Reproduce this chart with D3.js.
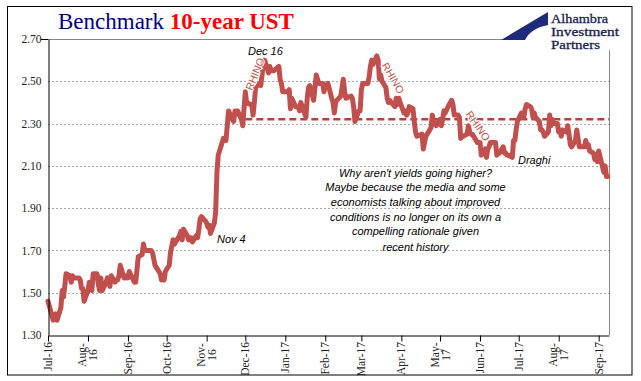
<!DOCTYPE html>
<html><head><meta charset="utf-8">
<script src="https://cdn.jsdelivr.net/npm/d3@7"></script>
<style>body{margin:0;background:#fff}svg{display:block}</style>
</head><body><svg id="c" width="641" height="381"></svg>
<script>
const dates = [
"2016-07-01","2016-07-05","2016-07-06","2016-07-07","2016-07-08","2016-07-11","2016-07-12","2016-07-13","2016-07-14","2016-07-15","2016-07-18","2016-07-19","2016-07-20","2016-07-21","2016-07-22","2016-07-25","2016-07-26","2016-07-27","2016-07-28","2016-07-29",
"2016-08-01","2016-08-02","2016-08-03","2016-08-04","2016-08-05","2016-08-08","2016-08-09","2016-08-10","2016-08-11","2016-08-12","2016-08-15","2016-08-16","2016-08-17","2016-08-18","2016-08-19","2016-08-22","2016-08-23","2016-08-24","2016-08-25","2016-08-26","2016-08-29","2016-08-30","2016-08-31",
"2016-09-01","2016-09-02","2016-09-06","2016-09-07","2016-09-08","2016-09-09","2016-09-12","2016-09-13","2016-09-14","2016-09-15","2016-09-16","2016-09-19","2016-09-20","2016-09-21","2016-09-22","2016-09-23","2016-09-26","2016-09-27","2016-09-28","2016-09-29","2016-09-30",
"2016-10-03","2016-10-04","2016-10-05","2016-10-06","2016-10-07","2016-10-11","2016-10-12","2016-10-13","2016-10-14","2016-10-17","2016-10-18","2016-10-19","2016-10-20","2016-10-21","2016-10-24","2016-10-25","2016-10-26","2016-10-27","2016-10-28","2016-10-31",
"2016-11-01","2016-11-02","2016-11-03","2016-11-04","2016-11-07","2016-11-08","2016-11-09","2016-11-10","2016-11-14","2016-11-15","2016-11-16","2016-11-17","2016-11-18","2016-11-21","2016-11-22","2016-11-23","2016-11-25","2016-11-28","2016-11-29","2016-11-30",
"2016-12-01","2016-12-02","2016-12-05","2016-12-06","2016-12-07","2016-12-08","2016-12-09","2016-12-12","2016-12-13","2016-12-14","2016-12-15","2016-12-16","2016-12-19","2016-12-20","2016-12-21","2016-12-22","2016-12-23","2016-12-27","2016-12-28","2016-12-29","2016-12-30",
"2017-01-03","2017-01-04","2017-01-05","2017-01-06","2017-01-09","2017-01-10","2017-01-11","2017-01-12","2017-01-13","2017-01-17","2017-01-18","2017-01-19","2017-01-20","2017-01-23","2017-01-24","2017-01-25","2017-01-26","2017-01-27","2017-01-30","2017-01-31",
"2017-02-01","2017-02-02","2017-02-03","2017-02-06","2017-02-07","2017-02-08","2017-02-09","2017-02-10","2017-02-13","2017-02-14","2017-02-15","2017-02-16","2017-02-17","2017-02-21","2017-02-22","2017-02-23","2017-02-24","2017-02-27","2017-02-28",
"2017-03-01","2017-03-02","2017-03-03","2017-03-06","2017-03-07","2017-03-08","2017-03-09","2017-03-10","2017-03-13","2017-03-14","2017-03-15","2017-03-16","2017-03-17","2017-03-20","2017-03-21","2017-03-22","2017-03-23","2017-03-24","2017-03-27","2017-03-28","2017-03-29","2017-03-30","2017-03-31",
"2017-04-03","2017-04-04","2017-04-05","2017-04-06","2017-04-07","2017-04-10","2017-04-11","2017-04-12","2017-04-13","2017-04-17","2017-04-18","2017-04-19","2017-04-20","2017-04-21","2017-04-24","2017-04-25","2017-04-26","2017-04-27","2017-04-28",
"2017-05-01","2017-05-02","2017-05-03","2017-05-04","2017-05-05","2017-05-08","2017-05-09","2017-05-10","2017-05-11","2017-05-12","2017-05-15","2017-05-16","2017-05-17","2017-05-18","2017-05-19","2017-05-22","2017-05-23","2017-05-24","2017-05-25","2017-05-26","2017-05-30","2017-05-31",
"2017-06-01","2017-06-02","2017-06-05","2017-06-06","2017-06-07","2017-06-08","2017-06-09","2017-06-12","2017-06-13","2017-06-14","2017-06-15","2017-06-16","2017-06-19","2017-06-20","2017-06-21","2017-06-22","2017-06-23","2017-06-26","2017-06-27","2017-06-28","2017-06-29","2017-06-30",
"2017-07-03","2017-07-05","2017-07-06","2017-07-07","2017-07-10","2017-07-11","2017-07-12","2017-07-13","2017-07-14","2017-07-17","2017-07-18","2017-07-19","2017-07-20","2017-07-21","2017-07-24","2017-07-25","2017-07-26","2017-07-27","2017-07-28","2017-07-31",
"2017-08-01","2017-08-02","2017-08-03","2017-08-04","2017-08-07","2017-08-08","2017-08-09","2017-08-10","2017-08-11","2017-08-14","2017-08-15","2017-08-16","2017-08-17","2017-08-18","2017-08-21","2017-08-22","2017-08-23","2017-08-24","2017-08-25","2017-08-28","2017-08-29","2017-08-30","2017-08-31",
"2017-09-01","2017-09-05","2017-09-06","2017-09-07","2017-09-08"
];
const yields = [
1.46,1.37,1.38,1.40,1.37,1.43,1.51,1.48,1.53,1.59,1.58,1.55,1.58,1.57,1.57,1.57,1.56,1.52,1.52,1.46,
1.51,1.55,1.55,1.51,1.59,1.59,1.54,1.51,1.57,1.51,1.55,1.57,1.56,1.53,1.58,1.55,1.56,1.56,1.58,1.63,1.57,1.57,1.58,
1.57,1.60,1.55,1.55,1.61,1.67,1.68,1.73,1.70,1.70,1.70,1.70,1.69,1.66,1.63,1.62,1.59,1.56,1.57,1.56,1.60,
1.63,1.69,1.72,1.75,1.73,1.77,1.79,1.75,1.80,1.77,1.75,1.76,1.76,1.74,1.77,1.76,1.80,1.85,1.86,1.84,
1.83,1.81,1.82,1.78,1.83,1.88,2.07,2.15,2.23,2.22,2.22,2.29,2.36,2.32,2.31,2.36,2.36,2.32,2.29,2.37,
2.45,2.40,2.39,2.39,2.34,2.40,2.47,2.49,2.48,2.53,2.60,2.60,2.54,2.57,2.55,2.55,2.55,2.57,2.51,2.49,2.45,
2.45,2.46,2.37,2.42,2.38,2.38,2.38,2.36,2.40,2.33,2.42,2.47,2.48,2.41,2.47,2.53,2.51,2.49,2.49,2.45,
2.48,2.48,2.49,2.42,2.40,2.35,2.40,2.41,2.43,2.47,2.51,2.45,2.42,2.43,2.42,2.38,2.31,2.36,2.36,
2.46,2.49,2.49,2.49,2.52,2.57,2.60,2.58,2.62,2.60,2.51,2.53,2.50,2.47,2.42,2.40,2.41,2.40,2.38,2.42,2.39,2.42,2.40,
2.35,2.36,2.34,2.35,2.38,2.37,2.31,2.26,2.24,2.25,2.18,2.21,2.24,2.25,2.28,2.34,2.31,2.30,2.29,
2.32,2.29,2.32,2.36,2.35,2.39,2.40,2.41,2.39,2.34,2.34,2.33,2.23,2.24,2.24,2.25,2.29,2.26,2.25,2.25,2.21,2.21,
2.21,2.15,2.18,2.14,2.18,2.19,2.21,2.21,2.21,2.15,2.16,2.16,2.19,2.16,2.16,2.15,2.15,2.14,2.22,2.22,2.27,2.31,
2.35,2.33,2.37,2.39,2.38,2.37,2.33,2.35,2.33,2.31,2.27,2.27,2.26,2.24,2.26,2.34,2.29,2.32,2.30,2.30,
2.26,2.27,2.24,2.27,2.26,2.29,2.25,2.20,2.19,2.22,2.27,2.23,2.19,2.19,2.19,2.22,2.19,2.20,2.17,2.16,2.13,2.15,2.12,
2.17,2.07,2.10,2.05,2.05
];
const yTicks = [1.30,1.50,1.70,1.90,2.10,2.30,2.50,2.70];
const monthTicks = ["2016-07-01","2016-08-01","2016-09-01","2016-10-01","2016-11-01","2016-12-01","2017-01-01","2017-02-01","2017-03-01","2017-04-01","2017-05-01","2017-06-01","2017-07-01","2017-08-01","2017-09-01"];
const monthLabels = [["Jul-16"],["Aug-","16"],["Sep-16"],["Oct-16"],["Nov-","16"],["Dec-16"],["Jan-17"],["Feb-17"],["Mar-17"],["Apr-17"],["May-","17"],["Jun-17"],["Jul-17"],["Aug-","17"],["Sep-17"]];
const xDomain = ["2016-07-01","2017-09-09"];
const yDomain = [1.30,2.70];
const refLevel = 2.32;
const refStart = "2016-12-01";
const noteLines = ["Why aren't yields going higher?","Maybe because the media and some","economists talking about improved","conditions is no longer on its own a","compelling rationale given","recent history"];
const logoLines = ["Alhambra","Investment","Partners"];
const logoWidths = [57,68,49];

const parse = d3.timeParse("%Y-%m-%d");
const data = dates.map((d,i)=>({date:parse(d), v:yields[i]}));
const svg = d3.select("#c");
const L=48,R=609,T=39,B=335;
const x = d3.scaleTime().domain(xDomain.map(parse)).range([L,R]);
const y = d3.scaleLinear().domain(yDomain).range([B,T]);

svg.append("rect").attr("x",0).attr("y",0).attr("width",641).attr("height",381).attr("fill","#fff");
svg.append("rect").attr("x",7.5).attr("y",6.5).attr("width",624.5).attr("height",368.5).attr("fill","none").attr("stroke","#000").attr("stroke-width",1);

// gridlines
svg.append("g").selectAll("line").data(yTicks.filter(t=>t>1.31 && t<2.69)).join("line")
  .attr("x1",L).attr("x2",R).attr("y1",d=>Math.round(y(d))+0.5).attr("y2",d=>Math.round(y(d))+0.5)
  .attr("stroke","#a6a6a6").attr("stroke-dasharray","2,2").attr("stroke-width",1);
svg.append("line").attr("x1",L).attr("x2",R).attr("y1",y(2.70)+0.5).attr("y2",y(2.70)+0.5).attr("stroke","#868686");
svg.append("line").attr("x1",R+0.5).attr("x2",R+0.5).attr("y1",T).attr("y2",B).attr("stroke","#868686");

// reference dashed line
svg.append("line").attr("x1",x(parse(refStart))).attr("x2",R).attr("y1",y(refLevel)).attr("y2",y(refLevel))
  .attr("stroke","#b7403d").attr("stroke-width",2.5).attr("stroke-dasharray","7,4");

// series
svg.append("path").datum(data).attr("fill","none").attr("stroke","#c0504d").attr("stroke-width",5)
  .attr("stroke-linejoin","round").attr("stroke-linecap","round")
  .attr("d",d3.line().x(d=>x(d.date)).y(d=>y(d.v)));

// y axis
const ya = svg.append("g").attr("transform",`translate(${L+0.5},0)`)
  .call(d3.axisLeft(y).tickValues(yTicks).tickFormat(d3.format(".2f")).tickSize(0).tickPadding(7));
ya.select(".domain").attr("stroke","#000");
ya.selectAll("text").attr("font-family","'Liberation Serif',serif").attr("font-size",11.5).attr("fill","#222");
svg.append("line").attr("x1",L-7).attr("x2",L).attr("y1",y(2.70)+0.5).attr("y2",y(2.70)+0.5).attr("stroke","#000");

// x axis
const xa = svg.append("g").attr("transform",`translate(0,${B+0.5})`)
  .call(d3.axisBottom(x).tickValues(monthTicks.map(parse)).tickFormat("").tickSize(6).tickSizeOuter(0));
xa.select(".domain").attr("stroke","#000");
xa.selectAll(".tick line").attr("stroke","#000");
monthTicks.forEach((m,i)=>{
  const lines = monthLabels[i];
  const cx = x(parse(m));
  const t = svg.append("text").attr("transform",`translate(${cx},342) rotate(-90)`)
    .attr("font-family","'Liberation Serif',serif").attr("font-size",11.5).attr("fill","#222");
  if(lines.length===1){
    t.attr("text-anchor","end").append("tspan").attr("x",0).attr("y",4).text(lines[0]);
  } else {
    t.attr("text-anchor","middle");
    lines.forEach((s,j)=>t.append("tspan").attr("x",-13).attr("y",-1.5+j*11).text(s));
  }
});

// annotations
const ann = (tx,ax,ay,anchor="start")=>svg.append("text").attr("x",ax).attr("y",ay).attr("text-anchor",anchor)
  .attr("font-family","'Liberation Sans',sans-serif").attr("font-style","italic").attr("font-size",11).attr("fill","#000").text(tx);
ann("Dec 16",248,55);
ann("Nov 4",217,243);
ann("Draghi",518,164);
noteLines.forEach((s,i)=>ann(s,415.5,[177,191,206,221,235,251][i],"middle"));

const rhino=(cx,cy,ang)=>svg.append("text").attr("transform",`translate(${cx},${cy}) rotate(${ang})`)
  .attr("text-anchor","middle").attr("dy","0.35em").attr("font-family","'Liberation Sans',sans-serif").attr("font-size",10.5)
  .attr("fill","#c0504d").attr("stroke","#fff").attr("stroke-width",2).attr("paint-order","stroke").text("RHINO");
rhino(255,74,-68);
rhino(393,78,60);
rhino(478,126,55);

// logo
svg.append("rect").attr("x",502).attr("y",8).attr("width",124).attr("height",42).attr("fill","#fff");
svg.append("path").attr("d","M548,12 L501,40 L525,40 C529,32 537,27 548,25 Z").attr("fill","#1f2a7a");
svg.append("g").selectAll("text").data(logoLines).join("text")
  .attr("x",551).attr("y",(d,i)=>22.5+i*13).attr("font-family","'Liberation Serif',serif").attr("font-size",12.5)
  .attr("fill","#1a1f4f").attr("stroke","#1a1f4f").attr("stroke-width",0.3)
  .attr("textLength",(d,i)=>logoWidths[i]).attr("lengthAdjust","spacingAndGlyphs")
  .text(d=>d);

// title
const title = svg.append("text").attr("x",58).attr("y",29).attr("font-family","'Liberation Serif',serif").attr("font-size",23);
title.append("tspan").attr("fill","#000080").text("Benchmark ");
title.append("tspan").attr("fill","#ff0000").attr("font-weight","bold").text("10-year UST");
</script></body></html>
